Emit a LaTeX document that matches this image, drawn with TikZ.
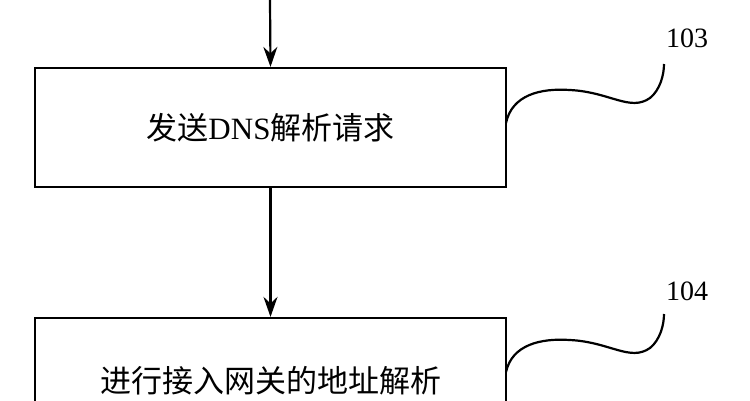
\documentclass[tikz,border=0pt]{standalone}
\usepackage{fontspec}
\setmainfont{Liberation Serif}
\newfontfamily\cjk{Noto Sans CJK SC}
\usetikzlibrary{arrows.meta}
\begin{document}
\begin{tikzpicture}[x=1pt,y=-1pt,
  stepbox/.style={draw,line width=2.2pt,minimum width=471pt,inner sep=0pt,font=\fontsize{31}{34}\selectfont},
  arr/.style={line width=2.2pt,-{Stealth[length=20pt,width=14pt]}},
  lead/.style={line width=2.2pt},
  lab/.style={font=\fontsize{28}{30}\selectfont}]
\useasboundingbox (0,0) rectangle (750,400);
\begin{scope}
\clip (0,0) rectangle (750,400);
\node[stepbox,minimum height=119pt] (b1) at (270.5,127.5) {{\cjk 发送}DNS{\cjk 解析请求}};
\node[stepbox,minimum height=125pt] (b2) at (270.5,380.5) {\cjk 进行接入网关的地址解析};
\coordinate (top) at (270,0);
\draw[arr] (top) -- (b1.north);
\draw[arr] (b1.south) -- (b2.north);
\node[lab] (l1) at (687,38) {103};
\node[lab] (l2) at (687,291) {104};
\coordinate (c1) at (506,123);
\coordinate (e1) at (664,64);
\draw[lead] (c1) .. controls (512,95) and (540,88) .. (570,90) .. controls (610,92) and (630,112) .. (650,98) .. controls (660,90) and (664,75) .. (e1);
\coordinate (c2) at (506,372);
\coordinate (e2) at (664,314);
\draw[lead] (c2) .. controls (512,345) and (540,338) .. (570,340) .. controls (610,342) and (630,362) .. (650,348) .. controls (660,340) and (664,325) .. (e2);
\end{scope}
\end{tikzpicture}
\end{document}
